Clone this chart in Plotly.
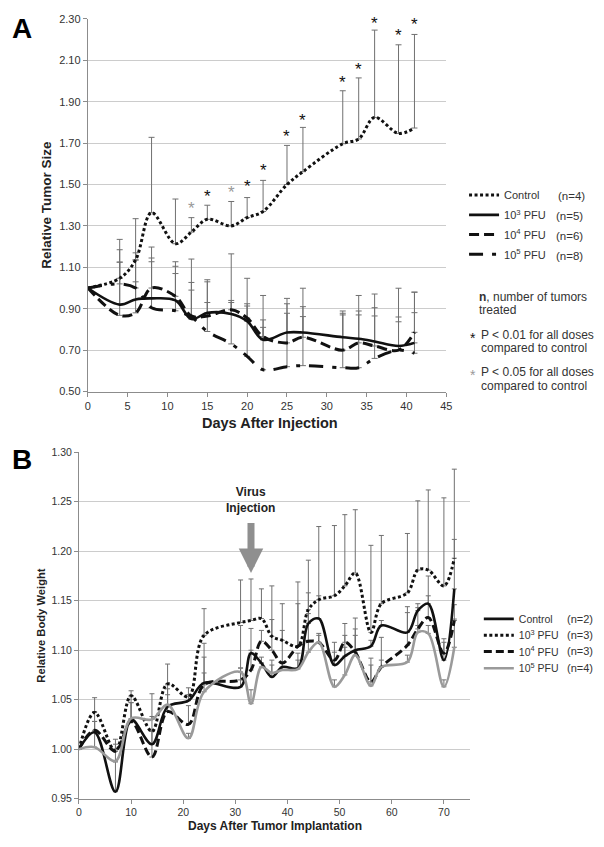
import plotly.graph_objects as go

# page is 604x847; the html body adds an 8px margin, so the figure is 8px smaller on each axis
OFF = 8
FW, FH = 604 - OFF, 847 - OFF
FONT = "Liberation Sans, Arial, sans-serif"

# ---------------- Panel A data ----------------
days_a = [0, 4, 6, 8, 11, 13, 15, 18, 20, 22, 25, 27, 32, 34, 36, 39, 41]
ctrl_a = [1.00, 1.047, 1.136, 1.364, 1.214, 1.27, 1.332, 1.30, 1.34, 1.37, 1.50, 1.562, 1.697, 1.72, 1.824, 1.747, 1.773]
ctrl_a_err = [0, 0.188, 0.199, 0.364, 0.216, 0.07, 0.068, 0.118, 0.097, 0.15, 0.189, 0.214, 0.256, 0.295, 0.422, 0.428, 0.452]
pfu3_a = [1.00, 0.92, 0.945, 0.95, 0.94, 0.85, 0.88, 0.875, 0.84, 0.75, 0.785, 0.785, 0.762, 0.755, 0.742, 0.72, 0.735]
pfu3_a_err = [0, 0.205, 0.085, 0.177, 0.13, 0.14, 0.16, 0.055, 0.084, 0.096, 0.139, 0.125, 0.116, 0.115, 0.123, 0.117, 0.146]
pfu4_a = [1.00, 0.868, 0.88, 1.00, 0.96, 0.865, 0.865, 0.895, 0.855, 0.765, 0.735, 0.762, 0.70, 0.735, 0.72, 0.70, 0.786]
pfu4_a_err = [0, 0.257, 0.255, 0.198, 0.167, 0.162, 0.065, 0.045, 0.058, 0.045, 0.143, 0.10, 0.17, 0.154, 0.185, 0.16, 0.194]
pfu5_a = [1.00, 1.02, 1.00, 0.905, 0.89, 0.86, 0.79, 0.73, 0.67, 0.605, 0.62, 0.625, 0.615, 0.615, 0.66, 0.70, 0.685]
pfu5_a_err = [0, 0.165, 0.17, 0.24, 0.215, 0.28, 0.24, 0.435, 0.377, 0.359, 0.33, 0.374, 0.274, 0.349, 0.311, 0.299, 0.295]

star_days = [13, 15, 18, 20, 22, 25, 27, 32, 34, 36, 39, 41]
star_vals = [1.404, 1.46, 1.48, 1.51, 1.586, 1.749, 1.83, 2.01, 2.077, 2.298, 2.24, 2.29]
star_grey = [True, False, True, False, False, False, False, False, False, False, False, False]

a_xticks = [0, 5, 10, 15, 20, 25, 30, 35, 40, 45]
a_yticks = [0.50, 0.70, 0.90, 1.10, 1.30, 1.50, 1.70, 1.90, 2.10, 2.30]
a_names = ["Control", "10<sup>3</sup> PFU", "10<sup>4</sup> PFU", "10<sup>5</sup> PFU"]
a_n = ["(n=4)", "(n=5)", "(n=6)", "(n=8)"]

# ---------------- Panel B data ----------------
days_b = [0, 3, 7, 10, 14, 17, 21, 24, 31, 33, 35, 37, 39, 42, 44, 46, 49, 51, 53, 56, 58, 63, 65, 67, 70, 72]
ctrl_b = [1.00, 1.017, 0.957, 1.03, 1.005, 1.043, 1.049, 1.067, 1.063, 1.097, 1.087, 1.073, 1.083,
          1.082, 1.127, 1.132, 1.085, 1.094, 1.10, 1.104, 1.125, 1.118, 1.14, 1.147, 1.09, 1.162]
ctrl_b_err = [0, 0.011, 0.03, 0.017, 0.014, 0.018, 0.006, 0.04, 0.019, 0.025, 0.006, 0.017, 0.005,
              0.015, 0.031, 0.023, 0.013, 0.021, 0.0325, 0.006, 0.005, 0.026, 0.007, 0.028, 0.0216, 0.05]
pfu3_b = [1.00, 1.037, 0.998, 1.054, 1.018, 1.066, 1.053, 1.115, 1.128, 1.130, 1.132, 1.114, 1.11,
          1.104, 1.141, 1.151, 1.155, 1.165, 1.178, 1.118, 1.147, 1.158, 1.181, 1.181, 1.165, 1.193]
pfu3_b_err = [0, 0.015, 0.012, 0.005, 0.038, 0.02, 0.009, 0.027, 0.043, 0.042, 0.03, 0.051, 0.037,
              0.065, 0.05, 0.074, 0.071, 0.072, 0.064, 0.088, 0.069, 0.06, 0.07, 0.081, 0.089, 0.09]
pfu4_b = [1.00, 1.019, 0.998, 1.028, 0.992, 1.038, 1.025, 1.065, 1.07, 1.08, 1.109, 1.10, 1.087,
          1.104, 1.109, 1.108, 1.09, 1.108, 1.098, 1.068, 1.083, 1.105, 1.1215, 1.133, 1.097, 1.13]
pfu4_b_err = [0, 0.019, 0.007, 0.025, 0.026, 0.027, 0.019, 0.028, 0.055, 0.02, 0.011, 0.031, 0.033,
              0.043, 0.028, 0.009, 0.018, 0.019, 0.0235, 0.024, 0.03, 0.033, 0.0215, 0.022, 0.011, 0.016]
pfu5_b = [1.00, 1.002, 0.988, 1.031, 1.03, 1.045, 1.011, 1.058, 1.078, 1.046, 1.083, 1.077, 1.080,
          1.081, 1.098, 1.108, 1.063, 1.075, 1.095, 1.064, 1.083, 1.088, 1.118, 1.117, 1.063, 1.103]
pfu5_b_err = [0, 0.026, 0.012, 0.016, 0.003, 0.01, 0.005, 0.019, 0.004, 0.014, 0.004, 0.008, 0.008,
              0.009, 0.012, 0.007, 0.007, 0.028, 0.02, 0.021, 0.007, 0.007, 0.007, 0.008, 0.007, 0.0285]

b_xticks = [0, 10, 20, 30, 40, 50, 60, 70]
b_yticks = [0.95, 1.00, 1.05, 1.10, 1.15, 1.20, 1.25, 1.30]
b_names = ["Control", "10<sup>3</sup> PFU", "10<sup>4</sup> PFU", "10<sup>5</sup> PFU"]
b_n = ["(n=2)", "(n=3)", "(n=3)", "(n=4)"]
injection_day = 33
arrow_top, arrow_tip = 1.230, 1.178


def px(x):
    """page x pixel -> paper fraction"""
    return (x - OFF) / FW


def py(y):
    """page y pixel -> paper fraction"""
    return 1 - (y - OFF) / FH


ERR_COLOR = "#707070"
fig = go.Figure()

# ---- error bars first (below all lines) ----
for ys, es in [(ctrl_a, ctrl_a_err), (pfu3_a, pfu3_a_err), (pfu4_a, pfu4_a_err), (pfu5_a, pfu5_a_err)]:
    fig.add_trace(go.Scatter(
        x=days_a, y=ys, mode="markers", marker=dict(size=0.1, opacity=0), showlegend=False,
        hoverinfo="skip", xaxis="x", yaxis="y",
        error_y=dict(type="data", array=es, arrayminus=[0] * len(es), symmetric=False,
                     color=ERR_COLOR, thickness=1, width=3)))
for ys, es in [(ctrl_b, ctrl_b_err), (pfu3_b, pfu3_b_err), (pfu4_b, pfu4_b_err), (pfu5_b, pfu5_b_err)]:
    fig.add_trace(go.Scatter(
        x=days_b, y=ys, mode="markers", marker=dict(size=0.1, opacity=0), showlegend=False,
        hoverinfo="skip", xaxis="x2", yaxis="y2",
        error_y=dict(type="data", array=es, arrayminus=[0] * len(es), symmetric=False,
                     color=ERR_COLOR, thickness=1, width=2.5)))

# ---- lines panel A ----
a_styles = [
    dict(color="#111111", width=3, dash="3px,2.5px"),
    dict(color="#111111", width=2.6, dash="solid"),
    dict(color="#111111", width=3, dash="10px,5px"),
    dict(color="#111111", width=3, dash="14px,9px,4px,9px"),
]
a_series = [ctrl_a, pfu3_a, pfu4_a, pfu5_a]
for i, (ys, st) in enumerate(zip(a_series, a_styles)):
    fig.add_trace(go.Scatter(
        x=days_a, y=ys, mode="lines", line=dict(shape="spline", smoothing=1.0, **st),
        name=a_names[i], xaxis="x", yaxis="y",
        legend="legend" if i == 0 else f"legend{i + 1}"))

# ---- lines panel B ----
b_styles = [
    dict(color="#111111", width=2.6, dash="solid"),
    dict(color="#111111", width=3, dash="3px,2.5px"),
    dict(color="#111111", width=3, dash="8px,4px"),
    dict(color="#9a9a9a", width=2.6, dash="solid"),
]
b_series = [ctrl_b, pfu3_b, pfu4_b, pfu5_b]
for i, (ys, st) in enumerate(zip(b_series, b_styles)):
    fig.add_trace(go.Scatter(
        x=days_b, y=ys, mode="lines", line=dict(shape="spline", smoothing=1.0, **st),
        name=b_names[i], xaxis="x2", yaxis="y2",
        legend=f"legend{i + 5}"))

axis_common = dict(showline=True, linecolor="#8c8c8c", linewidth=1, ticks="outside", ticklen=4,
                   tickcolor="#8c8c8c", zeroline=False)

fig.update_layout(
    width=FW, height=FH, margin=dict(l=0, r=0, t=0, b=0),
    paper_bgcolor="white", plot_bgcolor="white",
    font=dict(family=FONT, color="#333333"),
    xaxis=dict(domain=[px(86), px(450)], range=[0, 45], tickvals=a_xticks, showgrid=False,
               anchor="y", tickfont=dict(family=FONT, size=11, color="#333333"), **axis_common),
    yaxis=dict(domain=[py(391), py(13)], range=[0.5, 2.3], tickvals=a_yticks, tickformat=".2f",
               showgrid=True, gridcolor="#cccccc", gridwidth=1, anchor="x",
               tickfont=dict(family=FONT, size=11, color="#333333"), **axis_common),
    xaxis2=dict(domain=[px(77), px(474)], range=[0, 75], tickvals=b_xticks, showgrid=False,
                anchor="y2", tickfont=dict(family=FONT, size=10.5, color="#333333"), **axis_common),
    yaxis2=dict(domain=[py(804), py(452.7)], range=[0.95, 1.30], tickvals=b_yticks, tickformat=".2f",
                showgrid=True, gridcolor="#cccccc", gridwidth=1, anchor="x2",
                tickfont=dict(family=FONT, size=10.5, color="#333333"), **axis_common),
)

# legends: one per entry for exact placement; "(n=..)" column is added as text below
a_leg_y = [191.5, 211.8, 231.8, 251.8]
b_leg_y = [621.7, 638.3, 654.7, 671.7]
for i, yy in enumerate(a_leg_y):
    key = "legend" if i == 0 else f"legend{i + 1}"
    fig.layout[key] = dict(x=px(468), y=py(yy), xanchor="left", yanchor="middle",
                           bgcolor="rgba(0,0,0,0)", borderwidth=0, itemwidth=30,
                           font=dict(family=FONT, size=11, color="#333333"))
for i, yy in enumerate(b_leg_y):
    key = f"legend{i + 5}"
    fig.layout[key] = dict(x=px(483), y=py(yy), xanchor="left", yanchor="middle",
                           bgcolor="rgba(0,0,0,0)", borderwidth=0, itemwidth=30,
                           font=dict(family=FONT, size=10.5, color="#333333"))

ann = []
C = dict(xanchor="center", yanchor="middle", showarrow=False)
L = dict(xanchor="left", yanchor="middle", showarrow=False)

# (n=..) columns of the legends
a_n_x = [561, 559.5, 559.5, 559.5]
for t, x, y in zip(a_n, a_n_x, a_leg_y):
    ann.append(dict(x=px(x), y=py(y + 1.5), xref="paper", yref="paper", text=t,
                    font=dict(family=FONT, size=11.5, color="#333333"), **L))
for t, y in zip(b_n, b_leg_y):
    ann.append(dict(x=px(571), y=py(y), xref="paper", yref="paper", text=t,
                    font=dict(family=FONT, size=11, color="#333333"), **L))

# significance stars
for d, v, g in zip(star_days, star_vals, star_grey):
    ann.append(dict(x=d, y=v, xref="x", yref="y", text="*", yshift=-4,
                    font=dict(family=FONT, size=17, color="#999999" if g else "#111111"), **C))

# panel letters
ann.append(dict(x=px(19), y=py(23), xref="paper", yref="paper", text="<b>A</b>",
                font=dict(family=FONT, size=28, color="#000000"), **C))
ann.append(dict(x=px(19), y=py(460), xref="paper", yref="paper", text="<b>B</b>",
                font=dict(family=FONT, size=28, color="#000000"), **C))

# axis titles
ann.append(dict(x=px(44), y=py(201), xref="paper", yref="paper", text="<b>Relative Tumor Size</b>",
                textangle=-90, font=dict(family=FONT, size=13.5, color="#222222"), **C))
ann.append(dict(x=px(271), y=py(423), xref="paper", yref="paper", text="<b>Days After Injection</b>",
                font=dict(family=FONT, size=14.5, color="#222222"), **C))
ann.append(dict(x=px(39), y=py(629), xref="paper", yref="paper", text="<b>Relative Body Weight</b>",
                textangle=-90, font=dict(family=FONT, size=11.2, color="#222222"), **C))
ann.append(dict(x=px(276), y=py(832), xref="paper", yref="paper",
                text="<b>Days After Tumor Implantation</b>",
                font=dict(family=FONT, size=12, color="#222222"), **C))

# notes under legend A
notes = [
    (481, 295, "<b>n</b>, number of tumors", "#333333"),
    (481, 308.5, "treated", "#333333"),
    (483, 333.3, "P < 0.01 for all doses", "#333333"),
    (483, 346.7, "compared to control", "#333333"),
    (483, 371.7, "P < 0.05 for all doses", "#333333"),
    (483, 385, "compared to control", "#333333"),
]
for x, y, t, c in notes:
    ann.append(dict(x=px(x), y=py(y), xref="paper", yref="paper", text=t,
                    font=dict(family=FONT, size=12, color=c), **L))
ann.append(dict(x=px(477), y=py(333.3), xref="paper", yref="paper", text="*", yshift=-3,
                font=dict(family=FONT, size=14, color="#111111"), **C))
ann.append(dict(x=px(477), y=py(371.7), xref="paper", yref="paper", text="*", yshift=-3,
                font=dict(family=FONT, size=14, color="#999999"), **C))

# virus injection arrow
ann.append(dict(x=injection_day, y=1.2515, xref="x2", yref="y2", text="<b>Virus<br>Injection</b>",
                font=dict(family=FONT, size=12, color="#222222"), **C))
ann.append(dict(x=injection_day, y=arrow_tip, xref="x2", yref="y2", ax=injection_day, ay=arrow_top,
                axref="x2", ayref="y2", text="", showarrow=True, arrowhead=2, arrowsize=0.7,
                arrowwidth=7, arrowcolor="#8f8f8f"))

fig.update_layout(annotations=ann)
fig.write_html("out.html")
